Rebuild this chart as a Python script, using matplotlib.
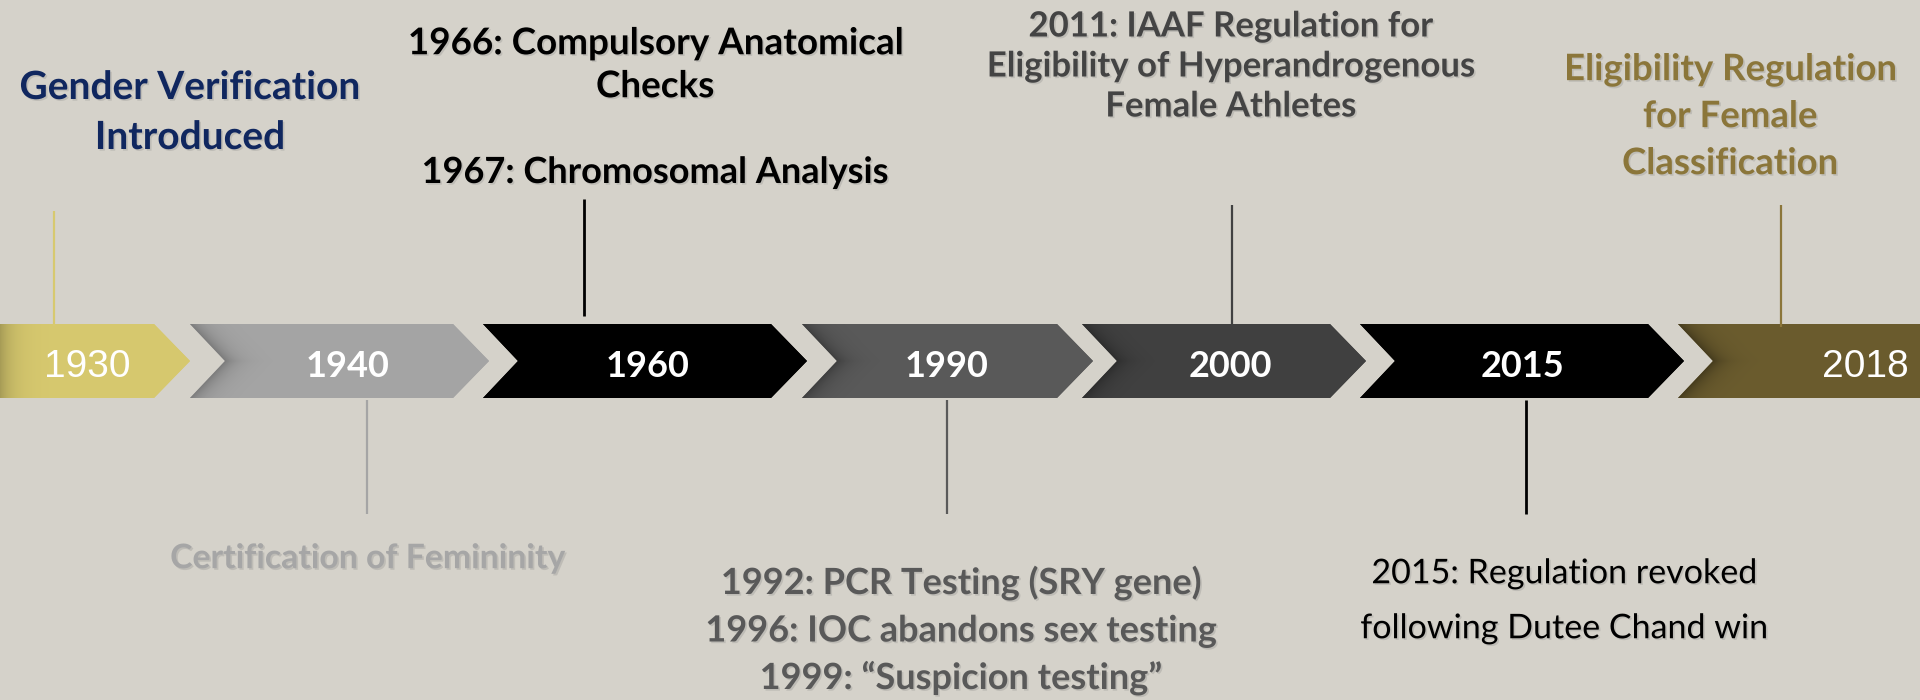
import numpy as np
import matplotlib
matplotlib.use('Agg')
import matplotlib.pyplot as plt
import matplotlib.patches as patches
import matplotlib.patheffects as pe
from matplotlib.colors import to_rgb

# timeline data
years = ['1930', '1940', '1960', '1990', '2000', '2015', '2018']
chev_colors = ['#D7C96F', '#A5A5A5', '#000000', '#5A5A5A', '#414141', '#000000', '#6B5C2E']
conn_colors = ['#D7C96F', '#A5A5A5', '#000000', '#5A5A5A', '#414141', '#000000', '#8B763A']
year_bold = [False, True, True, True, True, True, False]

event_labels = [
    "Gender Verification\nIntroduced",
    "Certification of Femininity",
    "1966: Compulsory Anatomical\nChecks",
    "1967: Chromosomal Analysis",
    "1992: PCR Testing (SRY gene)\n1996: IOC abandons sex testing\n1999: \u201cSuspicion testing\u201d",
    "2011: IAAF Regulation for\nEligibility of Hyperandrogenous\nFemale Athletes",
    "2015: Regulation revoked\nfollowing Dutee Chand win",
    "Eligibility Regulation\nfor Female\nClassification",
]
event_colors = ['#10275F', '#A6A6A6', '#000000', '#000000', '#595959', '#444444', '#000000', '#8B763A']
event_bold = [True, True, True, True, True, True, False, True]

# layout (pixels of the 1920x700 canvas)
chev_left = [0, 190, 483, 802, 1082, 1360, 1678]
chev_right = [154, 453, 771, 1057, 1330, 1648, 1920]
shade_amp = [0.22, 0.25, 0.0, 0.3, 0.3, 0.0, 0.35]
year_x = [87, 348, 648, 947, 1230, 1523, 1865]
conn_x = [54, 367, 584, 947, 1232, 1526, 1781]
conn_y0 = [211, 400, 199, 400, 205, 400, 205]
conn_y1 = [326, 514, 316, 514, 324, 514, 327]
ev_x = [190, 368, 655, 655, 961, 1231, 1564, 1730]
ev_y = [85, 556, 41, 170, 581, 24, 571, 67]
ev_step = [50, 0, 43, 0, 47.5, 40, 55, 47]
ev_size = [28, 24.3, 26.5, 26, 26, 25, 24.5, 26.3]

top, bot, mid = 324, 398, 361
tip, notch = 36, 35
bg = '#D5D2CA'

fig = plt.figure(figsize=(19.2, 7), dpi=100, facecolor=bg)
ax = fig.add_axes([0, 0, 1, 1])
ax.set_facecolor(bg)

for i, yr in enumerate(years):
    L, R = chev_left[i], chev_right[i]
    last = i == len(years) - 1
    if i == 0:
        pts = [(L, top), (R, top), (R + tip, mid), (R, bot), (L, bot)]
    elif last:
        pts = [(L, top), (R, top), (R, bot), (L, bot), (L + notch, mid)]
    else:
        pts = [(L, top), (R, top), (R + tip, mid), (R, bot), (L, bot), (L + notch, mid)]
    poly = patches.Polygon(pts, closed=True, fc=chev_colors[i], ec='none', zorder=1)
    ax.add_patch(poly)

    # soft shadow along the left edge / notch
    xr = R if last else R + tip
    xs = np.arange(L, xr + 1)
    ys = np.arange(top, bot + 1)
    X, Y = np.meshgrid(xs, ys)
    if i == 0:
        edge = np.full_like(X, L, dtype=float)
    else:
        edge = L + notch * (1 - np.abs(Y - mid) / (mid - top))
    d = np.clip(X - edge, 0, None)
    shade = 1 - shade_amp[i] * np.exp(-d / 13.0)
    rgb = np.clip(np.array(to_rgb(chev_colors[i]))[None, None, :] * shade[..., None], 0, 1)
    im = ax.imshow(rgb, extent=(xs[0], xs[-1], bot, top), origin='upper',
                   interpolation='bilinear', aspect='auto', zorder=2)
    im.set_clip_path(poly)

    if year_bold[i]:
        ax.text(year_x[i], 377, yr, color='white', fontsize=26, fontweight='bold',
                family='Lato', ha='center', va='baseline', zorder=3)
    else:
        ax.text(year_x[i], 377, yr, color='white', fontsize=28,
                family='Liberation Sans', ha='center', va='baseline', zorder=3)

    lw = 2.0 if chev_colors[i] == '#000000' else 1.6
    ax.plot([conn_x[i], conn_x[i]], [conn_y0[i], conn_y1[i]], color=conn_colors[i], lw=lw,
            solid_capstyle='butt', zorder=3)

shadow = [pe.withSimplePatchShadow(offset=(1.2, -1.2), shadow_rgbFace='#6f6f6f', alpha=0.22)]
for j, lab in enumerate(event_labels):
    for k, line in enumerate(lab.split('\n')):
        yb = ev_y[j] + k * ev_step[j] + 0.5 * ev_size[j]
        ax.text(ev_x[j], yb, line, color=event_colors[j], fontsize=ev_size[j],
                fontweight='bold' if event_bold[j] else 'normal', family='Lato',
                ha='center', va='baseline', path_effects=shadow, zorder=4)

ax.set_xlim(0, 1920)
ax.set_ylim(700, 0)
ax.axis('off')

plt.savefig('out.png', dpi=100, facecolor=bg)
